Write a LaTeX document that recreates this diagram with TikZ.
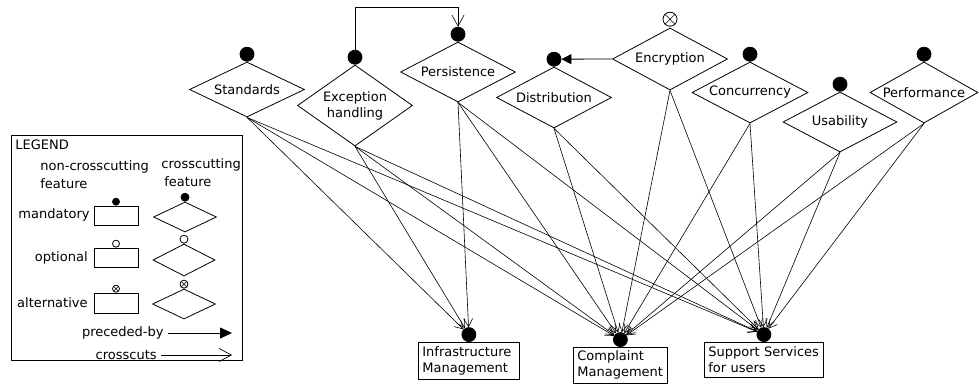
\documentclass[tikz,border=0pt]{standalone}
\usepackage{fontspec}
\setmainfont{DejaVu Sans}
\usetikzlibrary{shapes.geometric, arrows.meta}
\begin{document}
\begin{tikzpicture}[x=1pt, y=-1pt, line width=0.8pt,
  every node/.style={font=\fontsize{13}{16}\selectfont},
  feat/.style={diamond, draw, inner sep=0pt},
  ftxt/.style={inner sep=0pt, align=center},
  basebox/.style={rectangle, draw, inner xsep=4pt, inner ysep=1pt, align=left, anchor=north west},
  mand/.style={circle, fill=black, draw=black, inner sep=0pt, minimum size=14pt, anchor=south},
  altdot/.style={circle, draw=black, fill=white, inner sep=0pt, minimum size=#1, anchor=south,
     path picture={\draw[line width=0.6pt] (path picture bounding box.north west) -- (path picture bounding box.south east)
                                         (path picture bounding box.north east) -- (path picture bounding box.south west);}},
  smand/.style={circle, fill=black, draw=black, inner sep=0pt, minimum size=#1, anchor=south},
  sopt/.style={circle, fill=white, draw=black, inner sep=0pt, minimum size=#1, anchor=south},
  lgtxt/.style={inner sep=0pt},
  xcut/.style={line width=0.6pt, -{Straight Barb[length=8pt, width=9pt]}},
  prec/.style={-{Triangle[length=10pt, width=10pt]}}
]
\useasboundingbox (0,0) rectangle (979,386);

% crosscutting features
\node[feat, minimum width=115pt, minimum height=55pt] (std) at (247,89.5) {};
\node[feat, minimum width=115pt, minimum height=81pt] (exc) at (355,105.5) {};
\node[feat, minimum width=115pt, minimum height=60pt] (per) at (458,72) {};
\node[feat, minimum width=115pt, minimum height=61pt] (dis) at (554,97.5) {};
\node[feat, minimum width=115pt, minimum height=62pt] (enc) at (670,59) {};
\node[feat, minimum width=116pt, minimum height=61pt] (con) at (750,92.5) {};
\node[feat, minimum width=114pt, minimum height=60pt] (usa) at (840,122) {};
\node[feat, minimum width=108pt, minimum height=61pt] (prf) at (924,92.5) {};

\node[ftxt] (stdT) at (std) {Standards};
\node[ftxt] (excT) at (exc) {Exception\\handling};
\node[ftxt] (perT) at (per) {Persistence};
\node[ftxt] (disT) at (dis) {Distribution};
\node[ftxt] (encT) at (enc) {Encryption};
\node[ftxt] (conT) at (con) {Concurrency};
\node[ftxt] (usaT) at (usa) {Usability};
\node[ftxt] (prfT) at (prf) {Performance};

\node[mand] (stdD) at (std.north) {};
\node[mand] (excD) at (exc.north) {};
\node[mand] (perD) at (per.north) {};
\node[mand] (disD) at (dis.north) {};
\node[altdot=14pt] (encD) at ([yshift=1pt]enc.north) {};
\node[mand] (conD) at (con.north) {};
\node[mand] (usaD) at (usa.north) {};
\node[mand] (prfD) at (prf.north) {};

% base features
\node[basebox, text width=93pt, minimum height=37pt] (inf) at (418,342) {Infrastructure\\Management};
\node[basebox, text width=86pt, minimum height=36pt] (cmp) at (573,347) {Complaint\\Management};
\node[basebox, text width=111pt, minimum height=35pt] (sup) at (704,342) {Support Services\\for users};

\node[mand] (infD) at (inf.north) {};
\node[mand] (cmpD) at (cmp.north) {};
\node[mand] (supD) at (sup.north) {};

% preceded-by relations
\coordinate (loopY) at (0,7);
\draw[line width=0.6pt, -{Straight Barb[length=11pt, width=12pt]}]
  (excD.north) -- (excD.north |- loopY) -- (perD.north |- loopY) -- (perD.north);
\draw[prec] (enc.west) -- (disD);

% crosscuts relations
\foreach \src in {std, exc, per} {
  \draw[xcut] (\src.south) -- (infD);
}
\foreach \src in {std, exc, per, dis, enc, con, usa, prf} {
  \draw[xcut] (\src.south) -- (cmpD);
  \draw[xcut] (\src.south) -- (supD);
}

% legend
\node[draw, inner sep=0pt, minimum width=231pt, minimum height=225pt, anchor=north west] (legend) at (11,135) {};
\node[lgtxt, anchor=west] (lgT) at (15,145) {LEGEND};
\node[lgtxt, anchor=west] (lgNC1) at (40,167) {non-crosscutting};
\node[lgtxt, anchor=west] (lgNC2) at (40,184) {feature};
\node[lgtxt, anchor=west] (lgC1) at (161,165) {crosscutting};
\node[lgtxt, anchor=west] (lgC2) at (164,182) {feature};

\node[lgtxt, anchor=east] (lgMand) at (90,215) {mandatory};
\node[lgtxt, anchor=east] (lgOpt) at (88,258) {optional};
\node[lgtxt, anchor=east] (lgAlt) at (88,303) {alternative};

\node[draw, inner sep=0pt, minimum width=44pt, minimum height=19pt] (lgR1) at (116,215.5) {};
\node[draw, inner sep=0pt, minimum width=44pt, minimum height=19pt] (lgR2) at (116,257.5) {};
\node[draw, inner sep=0pt, minimum width=44pt, minimum height=20pt] (lgR3) at (116,303) {};
\node[smand=7pt] (lgR1D) at (lgR1.north) {};
\node[sopt=7pt] (lgR2D) at (lgR2.north) {};
\node[altdot=7pt] (lgR3D) at (lgR3.north) {};

\node[feat, minimum width=63pt, minimum height=30pt] (lgF1) at (185,217) {};
\node[feat, minimum width=62pt, minimum height=32pt] (lgF2) at (184,260) {};
\node[feat, minimum width=63pt, minimum height=30pt] (lgF3) at (184,304) {};
\node[smand=8pt] (lgF1D) at (lgF1.north) {};
\node[sopt=8pt] (lgF2D) at (lgF2.north) {};
\node[altdot=8pt] (lgF3D) at (lgF3.north) {};

\node[lgtxt, anchor=east] (lgPrec) at (164,333) {preceded-by};
\node[lgtxt, anchor=east] (lgCross) at (157,355) {crosscuts};
\coordinate (lgPEnd) at (232,333);
\coordinate (lgCEnd) at (232,355);
\draw[-{Triangle[length=12pt, width=11pt]}] ([xshift=4pt]lgPrec.east) -- (lgPEnd);
\draw[line width=0.7pt, -{Straight Barb[length=12pt, width=13pt]}] ([xshift=4pt]lgCross.east) -- (lgCEnd);
\end{tikzpicture}
\end{document}
